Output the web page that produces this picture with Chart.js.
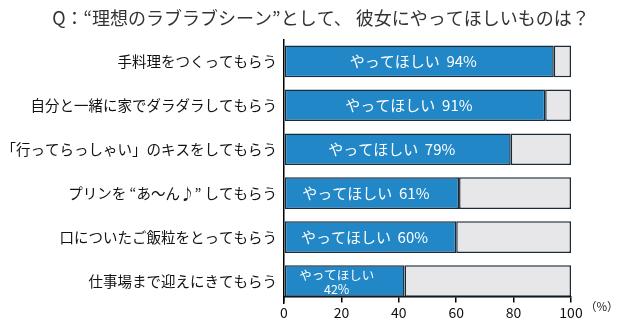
<!DOCTYPE html>
<html>
<head>
<meta charset="utf-8">
<script src="https://cdn.jsdelivr.net/npm/chart.js@4"></script>
<style>
  html, body { margin: 0; padding: 0; background: #fff; }
  #wrap { width: 640px; height: 333px; }
</style>
</head>
<body>
<div id="wrap"><canvas id="chart"></canvas></div>
<script>
// data
const titleText = "Q：“理想のラブラブシーン”として、 彼女にやってほしいものは？";
const categories = [
  "手料理をつくってもらう",
  "自分と一緒に家でダラダラしてもらう",
  "「行ってらっしゃい」のキスをしてもらう",
  "プリンを “あ～ん♪” してもらう",
  "口についたご飯粒をとってもらう",
  "仕事場まで迎えにきてもらう",
];
const wantValues = [94, 91, 79, 61, 60, 42];
const restValues = [6, 9, 21, 39, 40, 58];
const xTicks = [0, 20, 40, 60, 80, 100];
const barLabel = "やってほしい";
const unitLabel = "（%）";

const JP = '"Noto Sans CJK JP", "Noto Sans", sans-serif';

// title over the whole canvas, labels inside the blue bars, unit mark
const barText = {
  id: "barText",
  afterDatasetsDraw(chart) {
    const ctx = chart.ctx;
    const meta = chart.getDatasetMeta(0);
    ctx.save();
    ctx.textAlign = "center";
    ctx.textBaseline = "middle";

    ctx.fillStyle = "#333";
    ctx.font = "18px " + JP;
    ctx.fillText(titleText, chart.width / 2 + 1, 18);

    ctx.fillStyle = "#fff";
    meta.data.forEach((bar, i) => {
      const cx = (bar.base + bar.x) / 2 - 6;
      const v = wantValues[i];
      if (v < 50) {
        ctx.font = "12.5px " + JP;
        ctx.fillText(barLabel, cx - 2, bar.y - 6);
        ctx.fillText(v + "%", cx - 2, bar.y + 8);
      } else {
        ctx.font = "15px " + JP;
        ctx.fillText(barLabel + "  " + v + "%", cx, bar.y);
      }
    });

    const xs = chart.scales.x;
    ctx.fillStyle = "#222";
    ctx.textAlign = "left";
    ctx.font = "11.5px " + JP;
    ctx.fillText(unitLabel, xs.right + 14, 307);
    ctx.restore();
  },
};

new Chart(document.getElementById("chart"), {
  type: "bar",
  data: {
    labels: categories,
    datasets: [
      {
        data: wantValues,
        backgroundColor: "#2287c6",
        borderColor: "#1b2a38",
        borderWidth: 1.5,
        borderSkipped: false,
      },
      {
        data: restValues,
        backgroundColor: "#e7e7e9",
        borderColor: "#1b2a38",
        borderWidth: 1.5,
        borderSkipped: false,
      },
    ],
  },
  options: {
    indexAxis: "y",
    responsive: true,
    maintainAspectRatio: false,
    animation: false,
    datasets: { bar: { categoryPercentage: 1, barPercentage: 0.72 } },
    layout: { padding: { left: 0, right: 69, top: 39.4, bottom: 30 } },
    plugins: {
      legend: { display: false },
      tooltip: { enabled: false },
      title: { display: false },
    },
    scales: {
      x: {
        stacked: true,
        min: 0,
        max: 100,
        position: { y: 5.364 },
        afterBuildTicks: (scale) => {
          scale.ticks = xTicks.map((v) => ({ value: v }));
        },
        grid: { drawOnChartArea: false, tickLength: 5, color: "#000", lineWidth: 1.5 },
        border: { display: true, color: "#000", width: 1.5 },
        ticks: { color: "#111", padding: 2, font: { family: JP, size: 14 } },
      },
      y: {
        stacked: true,
        afterFit: (scale) => {
          scale.width = 284;
        },
        grid: { display: false, drawTicks: false },
        border: { display: true, color: "#000", width: 1.5 },
        ticks: { color: "#111", padding: 7, font: { family: JP, size: 14.5 } },
      },
    },
  },
  plugins: [barText],
});
</script>
</body>
</html>
